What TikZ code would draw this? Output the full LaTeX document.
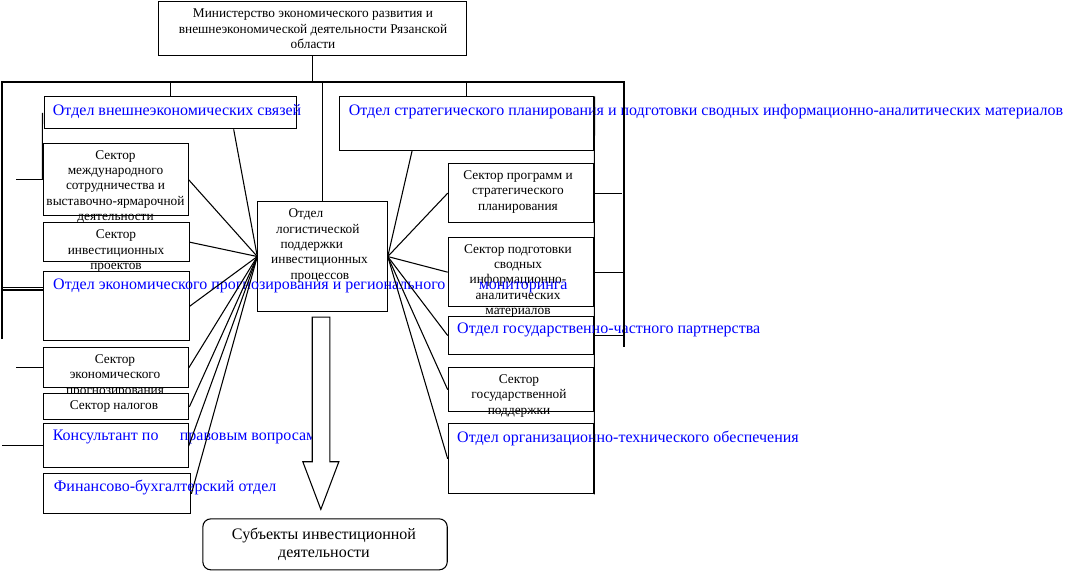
\documentclass[tikz,border=0pt]{standalone}
\usepackage{fontspec}
\setmainfont{Liberation Serif}
\usetikzlibrary{calc,positioning}

\begin{document}
\begin{tikzpicture}[x=0.75pt,y=-0.75pt,line width=0.8pt,
	box/.style={draw,fill = white,inner sep=0pt,anchor=north west},
	sz/.style 2 args={minimum width=#1*0.75pt,minimum height=#2*0.75pt},
	txt/.style={font=\fontsize{10}{11.5}\selectfont,align=center,inner sep=0pt},
	btxt/.style={font=\fontsize{12}{14}\selectfont,text = blue,anchor=west,inner sep=0pt}]
\useasboundingbox (0,0) rectangle (1066,583);
\node[box,sz={308}{54}] (min) at (158,1) {};
\node[txt] (minT) at (313,28.7) {Министерство экономического развития и\\внешнеэкономической деятельности Рязанской\\области};
\node[box,sz={129.4}{110}] (log) at (257.3,201) {};
\node[txt,align=left,anchor=west] (logT) at (270.7,245.5) {\hspace*{13pt}Отдел\\\hspace*{3.7pt}логистической\\\hspace*{7pt}поддержки\\инвестиционных\\\hspace*{14.5pt}процессов};
\node[box,sz={254.8}{53.7}] (strat) at (338.6,96.3) {};
\node[btxt] (stratT) at (348.3,111.7) {Отдел стратегического планирования и подготовки сводных информационно-аналитических материалов};
\node[box,sz={145.6}{58.7}] (prog) at (447.7,163.3) {};
\node[txt] (progT) at (518,191.7) {Сектор программ и\\стратегического\\планирования};
\node[box,sz={145.6}{68.7}] (podg) at (447.7,237.3) {};
\node[txt] (podgT) at (518,280.7) {Сектор подготовки\\сводных\\информационно-\\аналитических\\материалов};
\node[box,sz={145.6}{38}] (gchp) at (447.7,316) {};
\node[btxt] (gchpT) at (456.7,330) {Отдел государственно-частного партнерства};
\node[box,sz={145.6}{43.7}] (gpod) at (447.7,367.3) {};
\node[txt] (gpodT) at (519,395.8) {Сектор\\государственной\\поддержки};
\node[box,sz={145.6}{70}] (orgt) at (447.7,423.3) {};
\node[btxt] (orgtT) at (456.7,438.3) {Отдел организационно-технического обеспечения};
% left column
\node[box,sz={252.5}{32}] (ved) at (43.5,96.3) {};
\node[btxt] (vedT) at (52.4,111.7) {Отдел внешнеэкономических связей};
\node[box,sz={144.4}{72}] (mezh) at (43.3,143.3) {};
\node[txt] (mezhT) at (115.5,186.7) {Сектор\\международного\\сотрудничества и\\выставочно-ярмарочной\\деятельности};
\node[box,sz={145.4}{38.7}] (inv) at (43.3,222.3) {};
\node[txt] (invT) at (116,251.3) {Сектор\\инвестиционных\\проектов};
\node[box,sz={145.4}{68.7}] (ekprog) at (43.3,271.3) {};
\node[btxt] (ekprogT) at (52.7,286) {Отдел экономического прогнозирования и регионального\hspace{22pt} мониторинга};
\node[box,sz={144.4}{40}] (seprog) at (43.3,347.3) {};
\node[txt] (seprogT) at (115,375.7) {Сектор\\экономического\\прогнозирования};
\node[box,sz={145}{26}] (nal) at (43.3,393.3) {};
\node[txt] (nalT) at (114,406.7) {Сектор налогов};
\node[box,sz={144.4}{44}] (kons) at (43.3,423.3) {};
\node[btxt] (konsT) at (52.3,437.3) {Консультант по\hspace{13pt} правовым вопросам};
\node[box,sz={147}{40}] (fin) at (43.3,473.3) {};
\node[btxt] (finT) at (53.3,487.3) {Финансово-бухгалтерский отдел};
\node[box,rounded corners=6pt,sz={244.4}{51}] (subj) at (202.3,518.3) {};
\node[txt,font=\fontsize{12}{13.7}\selectfont] (subjT) at (324,544) {Субъекты инвестиционной\\деятельности};
% bus lines
\coordinate (busL) at (2,82);
\coordinate (busR) at (624,82);
\coordinate (busLb) at (2,339);
\coordinate (busRb) at (624,347);
\draw (busLb) -- (busL) -- (busR) -- (busRb);
\draw (min.south) -- (min.south |- busL);
\draw (ved.north) -- (ved.north |- busL);
\draw (log.north) -- (log.north |- busL);
\draw (strat.north) -- (strat.north |- busL);
\draw (mezh.west) -- ++(-27,0);
\draw (seprog.west) -- ++(-27,0);
\draw (kons.west) -- (kons.west -| busL);
\draw ([yshift=-12pt]ekprog.north west) -- ++(-41.3,0);
\draw ([yshift=-14pt]ekprog.north west) -- ++(-41.3,0);
\draw ([xshift=-0.75pt]ved.west) -- ([xshift=-0.75pt]mezh.west);
\draw (prog.east) -- ++(27.4,0);
\draw (podg.east) -- (podg.east -| busR);
\draw (gchp.east) -- (gchp.east -| busR);
\draw (strat.north east) -- (orgt.south east);
% fans
\foreach \b in {mezh,inv,ekprog,seprog,nal,kons,fin}
	\draw (log.west) -- (\b.east);
\draw (log.west) -- ($(ved.south west)!0.75!(ved.south east)$);
\foreach \b in {prog,podg,gchp,gpod,orgt}
	\draw (log.east) -- (\b.west);
\draw (log.east) -- ($(strat.south west)!0.287!(strat.south east)$);
% arrow
\draw[fill = white] ($(log.south)+(-10.3,5)$) -- ++(0,144.7) -- ++(-9.4,0) -- ++(18,47.6)
	-- ++(18,-47.6) -- ++(-9,0) -- ++(0,-144.7) -- cycle;
\end{tikzpicture}
\end{document}
